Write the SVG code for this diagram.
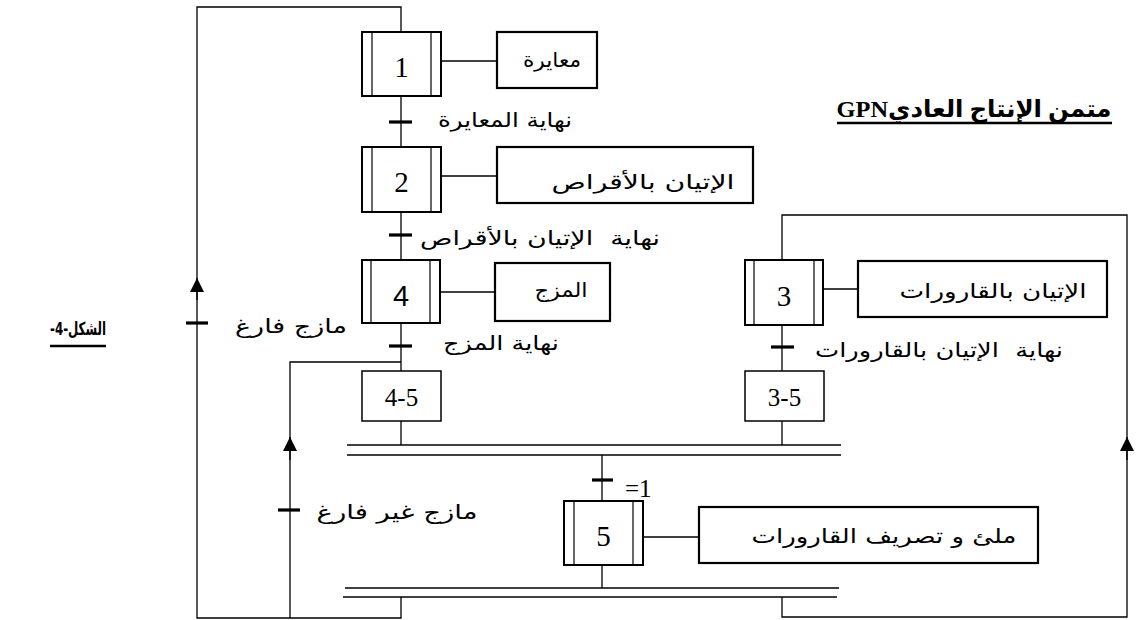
<svg xmlns="http://www.w3.org/2000/svg" width="1143" height="620" viewBox="0 0 1143 620">
<style>
.bg{fill:#fff}
.step{fill:#fff;stroke:#000;stroke-width:2}
.inner{stroke:#000;stroke-width:1.2}
.act{fill:#fff;stroke:#000;stroke-width:2.2}
.box{fill:#fff;stroke:#000;stroke-width:1.5}
.ln{fill:none;stroke:#000;stroke-width:1.3}
.tick{stroke:#000;stroke-width:3.2}
.bar{stroke:#000;stroke-width:1.6}
.num{font-family:'Liberation Serif',serif;font-size:29px;text-anchor:middle;fill:#000}
.numS{font-family:'Liberation Sans',sans-serif;font-size:29px;text-anchor:middle;fill:#000}
.ar{font-family:'DejaVu Sans',sans-serif;font-size:20px;text-anchor:middle;fill:#000;white-space:pre}
.lbl{font-family:'Liberation Serif',serif;font-size:25px;fill:#000}
</style>
<defs>
<marker id="arr" viewBox="0 0 10 10" refX="10" refY="5" markerWidth="15" markerHeight="14" markerUnits="userSpaceOnUse" orient="auto">
<path d="M0,0 L10,5 L0,10 z" fill="#000"/>
</marker>
</defs>
<rect class="bg" x="0" y="0" width="1143" height="620"/>

<g id="connectors">
<path class="ln" d="M401,32 V7 H197 V618 H401 V597"/>
<line class="ln" x1="197" y1="300" x2="197" y2="278" marker-end="url(#arr)"/>
<line class="tick" x1="186" y1="323" x2="208" y2="323"/>
<line class="ln" x1="401" y1="96" x2="401" y2="147"/>
<line class="tick" x1="389" y1="122" x2="412" y2="122"/>
<line class="ln" x1="401" y1="212" x2="401" y2="260"/>
<line class="tick" x1="389" y1="235" x2="412" y2="235"/>
<line class="ln" x1="401" y1="323" x2="401" y2="371"/>
<line class="tick" x1="389" y1="346" x2="412" y2="346"/>
<line class="ln" x1="401" y1="421" x2="401" y2="445"/>
<path class="ln" d="M401,362 H290 V618"/>
<line class="ln" x1="290" y1="460" x2="290" y2="437" marker-end="url(#arr)"/>
<line class="tick" x1="278" y1="510" x2="300" y2="510"/>
<path class="ln" d="M782,597 V617 H1127 V215 H782 V260"/>
<line class="ln" x1="1127" y1="460" x2="1127" y2="437" marker-end="url(#arr)"/>
<line class="ln" x1="782" y1="325" x2="782" y2="371"/>
<line class="tick" x1="771" y1="347" x2="794" y2="347"/>
<line class="ln" x1="782" y1="421" x2="782" y2="445"/>
<line class="bar" x1="347" y1="445" x2="841" y2="445"/>
<line class="bar" x1="347" y1="455" x2="841" y2="455"/>
<line class="ln" x1="602" y1="455" x2="602" y2="501"/>
<line class="tick" x1="592" y1="480" x2="613" y2="480"/>
<line class="ln" x1="602" y1="565" x2="602" y2="588"/>
<line class="bar" x1="345" y1="588" x2="839" y2="588"/>
<line class="bar" x1="343" y1="597" x2="837" y2="597"/>
<line class="ln" x1="441" y1="61" x2="497" y2="61"/>
<line class="ln" x1="441" y1="176" x2="497" y2="176"/>
<line class="ln" x1="440" y1="292" x2="495" y2="292"/>
<line class="ln" x1="823" y1="289" x2="858" y2="289"/>
<line class="ln" x1="643" y1="537" x2="699" y2="537"/>
</g>

<g id="step1">
<rect class="step" x="362" y="32" width="79" height="64"/>
<line class="inner" x1="372" y1="32" x2="372" y2="96"/>
<line class="inner" x1="431" y1="32" x2="431" y2="96"/>
<text class="num" x="401.5" y="77">1</text>
</g>
<g id="action1">
<rect class="act" x="497" y="32" width="100" height="56"/>
<text class="ar" x="552" y="67" textLength="58" lengthAdjust="spacingAndGlyphs">معايرة</text>
</g>
<g id="t12"><text class="ar" x="505" y="127" textLength="134" lengthAdjust="spacingAndGlyphs">نهاية المعايرة</text></g>

<g id="step2">
<rect class="step" x="362" y="147" width="79" height="65"/>
<line class="inner" x1="372" y1="147" x2="372" y2="212"/>
<line class="inner" x1="431" y1="147" x2="431" y2="212"/>
<text class="num" x="401.5" y="192">2</text>
</g>
<g id="action2">
<rect class="act" x="497" y="147" width="256" height="56"/>
<text class="ar" x="643" y="189" textLength="183" lengthAdjust="spacingAndGlyphs">الإتيان بالأقراص</text>
</g>
<g id="t24"><text class="ar" x="540" y="245" textLength="240" lengthAdjust="spacingAndGlyphs">نهاية  الإتيان بالأقراص</text></g>

<g id="step4">
<rect class="step" x="362" y="260" width="78" height="63"/>
<line class="inner" x1="371" y1="260" x2="371" y2="323"/>
<line class="inner" x1="430" y1="260" x2="430" y2="323"/>
<text class="numS" x="401" y="306">4</text>
</g>
<g id="action4">
<rect class="act" x="495" y="263" width="115" height="58"/>
<text class="ar" x="561" y="297" textLength="53" lengthAdjust="spacingAndGlyphs">المزج</text>
</g>
<g id="t45"><text class="ar" x="501" y="350" textLength="116" lengthAdjust="spacingAndGlyphs">نهاية المزج</text></g>

<g id="step45">
<rect class="box" x="362" y="371" width="79" height="50"/>
<text class="lbl" x="401.5" y="406" text-anchor="middle">4-5</text>
</g>

<g id="step3">
<rect class="step" x="745" y="260" width="78" height="65"/>
<line class="inner" x1="754" y1="260" x2="754" y2="325"/>
<line class="inner" x1="814" y1="260" x2="814" y2="325"/>
<text class="num" x="784" y="306">3</text>
</g>
<g id="action3">
<rect class="act" x="858" y="261" width="249" height="56"/>
<text class="ar" x="993" y="298" textLength="187" lengthAdjust="spacingAndGlyphs">الإتيان بالقارورات</text>
</g>
<g id="t35"><text class="ar" x="939" y="357" textLength="248" lengthAdjust="spacingAndGlyphs">نهاية  الإتيان بالقارورات</text></g>

<g id="step35">
<rect class="box" x="745" y="371" width="79" height="50"/>
<text class="lbl" x="784.5" y="406" text-anchor="middle">3-5</text>
</g>

<g id="t5"><text class="lbl" x="625" y="497" font-size="28">=1</text></g>

<g id="step5">
<rect class="step" x="564" y="501" width="79" height="64"/>
<line class="inner" x1="574" y1="501" x2="574" y2="565"/>
<line class="inner" x1="633" y1="501" x2="633" y2="565"/>
<text class="num" x="603.5" y="546">5</text>
</g>
<g id="action5">
<rect class="act" x="699" y="507" width="339" height="56"/>
<text class="ar" x="884" y="543" textLength="265" lengthAdjust="spacingAndGlyphs">ملئ و تصريف القارورات</text>
</g>

<g id="tEmpty"><text class="ar" x="291" y="333" textLength="112" lengthAdjust="spacingAndGlyphs">مازج فارغ</text></g>
<g id="tNotEmpty"><text class="ar" x="397" y="519" textLength="161" lengthAdjust="spacingAndGlyphs">مازج غير فارغ</text></g>

<g id="title">
<text x="974" y="117" direction="rtl" font-family="'Liberation Serif','DejaVu Sans',serif" font-weight="bold" font-size="24" text-anchor="middle" textLength="275" lengthAdjust="spacingAndGlyphs">متمن الإنتاج العاديGPN</text>
<line x1="837" y1="123" x2="1112" y2="123" stroke="#000" stroke-width="2.5"/>
</g>
<g id="figlabel">
<text x="78" y="335" direction="rtl" font-family="'DejaVu Sans',sans-serif" font-weight="bold" font-size="18" text-anchor="middle" textLength="56" lengthAdjust="spacingAndGlyphs">الشكل-4-</text>
<line x1="50" y1="346" x2="106" y2="346" stroke="#000" stroke-width="2.5"/>
</g>
</svg>
